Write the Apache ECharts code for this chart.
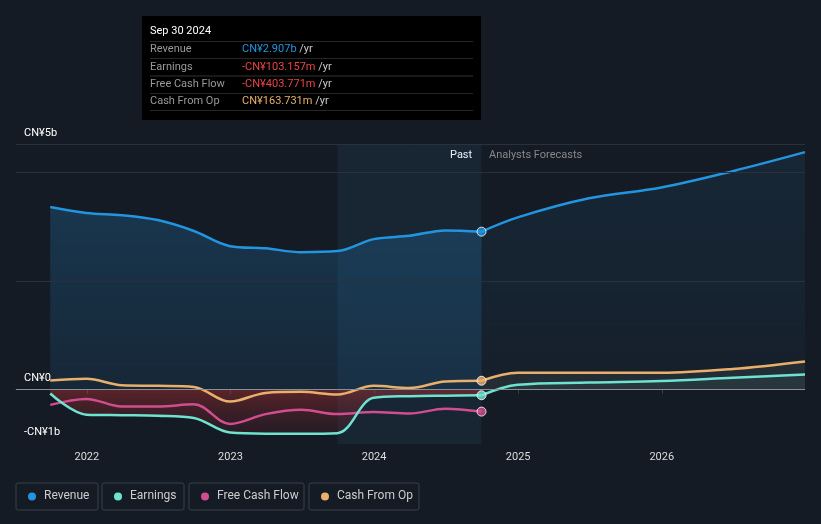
<!DOCTYPE html>
<html>
<head>
<meta charset="utf-8">
<script src="https://cdn.jsdelivr.net/npm/echarts@6/dist/echarts.min.js"></script>
<style>
  html, body { margin: 0; padding: 0; background: #151b24; }
  #chart { width: 821px; height: 524px; }
</style>
</head>
<body>
<div id="chart"></div>
<script>
// values in CN¥ billions
const pastDates = ['2021-09-30', '2021-12-31', '2022-03-31', '2022-06-30', '2022-09-30', '2022-12-31',
  '2023-03-31', '2023-06-30', '2023-09-30', '2023-12-31', '2024-03-31', '2024-06-30', '2024-09-30']
const forecastDates = ['2024-12-31', '2025-06-30', '2025-12-31', '2026-06-30', '2026-12-31']

const revenuePast = [3.36, 3.25, 3.21, 3.12, 2.92, 2.64, 2.60, 2.53, 2.55, 2.77, 2.83, 2.93, 2.907]
const revenueForecast = [3.17, 3.52, 3.72, 4.02, 4.37]
const earningsPast = [-0.07, -0.46, -0.47, -0.48, -0.52, -0.79, -0.81, -0.81, -0.80, -0.15, -0.12, -0.11, -0.103]
const earningsForecast = [0.09, 0.13, 0.16, 0.22, 0.28]
const fcfPast = [-0.28, -0.17, -0.31, -0.31, -0.27, -0.63, -0.45, -0.37, -0.45, -0.41, -0.44, -0.35, -0.404]
const cfoPast = [0.17, 0.20, 0.08, 0.07, 0.05, -0.22, -0.06, -0.04, -0.09, 0.07, 0.03, 0.15, 0.164]
const cfoForecast = [0.31, 0.31, 0.31, 0.38, 0.52]

const yTicks = [{ v: 4.52, t: 'CN¥5b' }, { v: 0, t: 'CN¥0' }, { v: -1, t: '-CN¥1b' }]

const colors = { revenue: '#2394df', earnings: '#6ee3cf', fcf: '#d24d8f', cfo: '#e8b06a' }

const zip = (d, v) => d.map((x, i) => [x, v[i]])
const last = pastDates[pastDates.length - 1]
const fcDates = [last].concat(forecastDates)

const chart = echarts.init(document.getElementById('chart'))

function lineSeries (name, color, data, area) {
  return {
    name, type: 'line', data, smooth: 0.35, showSymbol: false,
    lineStyle: { color, width: 2.5 }, itemStyle: { color },
    areaStyle: area, z: 3,
  }
}

const tipRows = [
  ['Revenue', 'CN¥2.907b', colors.revenue],
  ['Earnings', '-CN¥103.157m', '#e84545'],
  ['Free Cash Flow', '-CN¥403.771m', '#e84545'],
  ['Cash From Op', 'CN¥163.731m', colors.cfo],
]
const tipGraphics = [
  { type: 'rect', shape: { x: 142, y: 16, width: 339, height: 104 }, style: { fill: '#000' }, z: 20 },
  { type: 'text', x: 150, y: 26, style: { text: 'Sep 30 2024', fill: '#fff', font: '11px Roboto' }, z: 21 },
]
tipRows.forEach((r, i) => {
  const y = 44 + i * 17.3
  tipGraphics.push({ type: 'rect', shape: { x: 150, y: y - 3, width: 323, height: 0.8 }, style: { fill: '#333' }, z: 21 })
  tipGraphics.push({ type: 'text', x: 150, y, style: { text: r[0], fill: '#999', font: '11px Roboto' }, z: 21 })
  tipGraphics.push({ type: 'text', x: 242, y, style: { rich: { a: { fill: r[2], font: '11px Roboto' }, b: { fill: '#ccc', font: '11px Roboto' } }, text: '{a|' + r[1] + '}{b| /yr}' }, z: 21 })
})
tipGraphics.push({ type: 'rect', shape: { x: 150, y: 110, width: 323, height: 0.8 }, style: { fill: '#333' }, z: 21 })

const legendItems = [
  ['Revenue', colors.revenue, 16, 82],
  ['Earnings', colors.earnings, 102, 82],
  ['Free Cash Flow', colors.fcf, 189, 115],
  ['Cash From Op', colors.cfo, 309, 110],
]
const legendGraphics = []
legendItems.forEach(l => {
  legendGraphics.push({ type: 'rect', shape: { x: l[2], y: 483, width: l[3], height: 27, r: 2 }, style: { fill: 'none', stroke: '#3a414b', lineWidth: 1 } })
  legendGraphics.push({ type: 'circle', shape: { cx: l[2] + 16, cy: 496.5, r: 4 }, style: { fill: l[1] } })
  legendGraphics.push({ type: 'text', x: l[2] + 28, y: 490, style: { text: l[0], fill: '#ccc', font: '12px Roboto' } })
})

const yLabelGraphics = yTicks.map(t => ({
  type: 'text', position: [24, 389 - t.v * 54.2 - 16],
  style: { text: t.t, fill: '#fff', font: '11px Roboto' },
}))

const labelGraphics = [
  { type: 'text', x: 450, y: 150, style: { text: 'Past', fill: '#fff', font: '11px Roboto' } },
  { type: 'text', x: 489, y: 150, style: { text: 'Analysts Forecasts', fill: '#888', font: '11px Roboto' } },
]

chart.setOption({
  backgroundColor: '#151b24',
  animation: false,
  grid: { left: 16, right: 16, top: 144, bottom: 80 },
  xAxis: {
    type: 'time', min: '2021-07-05', max: '2026-12-31',
    axisLine: { lineStyle: { color: '#3a414b' } },
    axisTick: { show: true, length: 4, lineStyle: { color: '#3a414b' } },
    axisLabel: {
      color: '#ddd', fontSize: 11, fontFamily: 'Roboto', margin: 8,
      formatter: v => { const y = new Date(v).getFullYear(); return y > 2026 ? '' : String(y) },
    },
    splitLine: { show: false },
    minInterval: 3600 * 24 * 1000 * 365,
  },
  yAxis: {
    type: 'value', min: -1, max: 4.52,
    axisLabel: { show: false }, splitLine: { show: false }, axisLine: { show: false }, axisTick: { show: false },
  },
  graphic: tipGraphics.concat(legendGraphics, yLabelGraphics, labelGraphics),
  series: [
    Object.assign(lineSeries('Revenue', colors.revenue, zip(pastDates, revenuePast), {
      color: new echarts.graphic.LinearGradient(0, 0, 0, 1, [
        { offset: 0, color: 'rgba(35,148,223,0.32)' }, { offset: 1, color: 'rgba(35,148,223,0.14)' }]),
    }), {
      markLine: {
        silent: true, symbol: 'none', label: { show: false },
        lineStyle: { color: '#2a313b', type: 'solid', width: 1 },
        data: [{ yAxis: 2 }, { yAxis: 4 }, { yAxis: 4.52 }, { yAxis: 0, lineStyle: { color: '#8a8f96', width: 1.2 } }],
      },
      markArea: {
        silent: true,
        data: [
          [{ xAxis: '2023-09-30', itemStyle: { color: 'rgba(60,130,190,0.10)' } }, { xAxis: last }],
        ],
      },
    }),
    lineSeries('Revenue', colors.revenue, zip(fcDates, [revenuePast[12]].concat(revenueForecast)), {
      color: new echarts.graphic.LinearGradient(0, 0, 0, 1, [
        { offset: 0, color: 'rgba(35,148,223,0.14)' }, { offset: 1, color: 'rgba(35,148,223,0.05)' }]),
    }),
    lineSeries('Cash From Op', colors.cfo, zip(pastDates, cfoPast), null),
    lineSeries('Cash From Op', colors.cfo, zip(fcDates, [cfoPast[12]].concat(cfoForecast)),
      { color: 'rgba(150,150,130,0.16)', origin: 0 }),
    lineSeries('Free Cash Flow', colors.fcf, zip(pastDates, fcfPast), null),
    lineSeries('Earnings', colors.earnings, zip(pastDates, earningsPast), {
      origin: 0,
      color: new echarts.graphic.LinearGradient(0, 0, 0, 1, [
        { offset: 0, color: 'rgba(200,50,50,0.55)' }, { offset: 1, color: 'rgba(120,30,40,0.25)' }]),
    }),
    lineSeries('Earnings', colors.earnings, zip(fcDates, [earningsPast[12]].concat(earningsForecast)),
      { color: 'rgba(110,227,207,0.08)', origin: 0 }),
    {
      type: 'scatter', symbolSize: 9, z: 5,
      itemStyle: { borderColor: '#fff', borderWidth: 1 },
      data: [
        { value: [last, revenuePast[12]], itemStyle: { color: colors.revenue } },
        { value: [last, cfoPast[12]], itemStyle: { color: colors.cfo } },
        { value: [last, earningsPast[12]], itemStyle: { color: colors.earnings } },
        { value: [last, fcfPast[12]], itemStyle: { color: colors.fcf } },
      ],
    },
  ],
})
</script>
</body>
</html>
